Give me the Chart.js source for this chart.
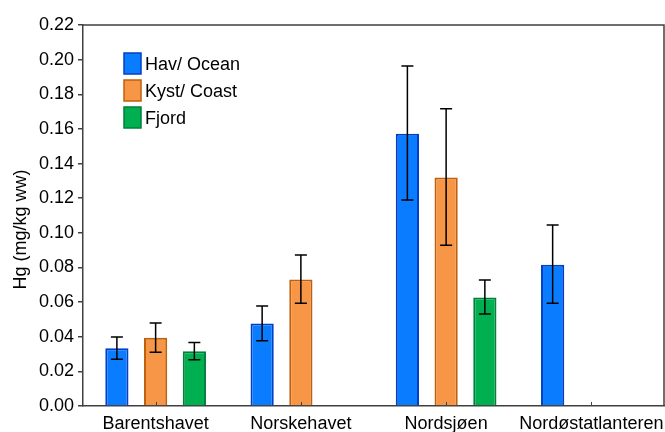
<!DOCTYPE html>
<html>
<head>
<meta charset="utf-8">
<script src="https://cdn.jsdelivr.net/npm/chart.js@4.4.1/dist/chart.umd.min.js"></script>
<style>
  body { margin: 0; background: #fff; }
  #wrap { width: 665px; height: 432px; }
</style>
</head>
<body>
<div id="wrap"><canvas id="myChart" width="665" height="432"></canvas></div>
<script>
const regioner = ["Barentshavet", "Norskehavet", "Nordsjøen", "Nordøstatlanteren"];
const serieNavn = ["Hav/ Ocean", "Kyst/ Coast", "Fjord"];

const hav = [0.0333, 0.0477, 0.1572, 0.0816];
const kyst = [0.0394, 0.0731, 0.132, null];
const fjord = [0.0316, null, 0.0626, null];

// error bars: lower and upper ends
const havLav = [0.027, 0.0377, 0.119, 0.0593];
const havHoy = [0.0398, 0.0577, 0.1963, 0.1045];
const kystLav = [0.031, 0.0593, 0.0928, null];
const kystHoy = [0.0479, 0.0872, 0.1717, null];
const fjordLav = [0.0267, null, 0.0531, null];
const fjordHoy = [0.0366, null, 0.0728, null];

const yTicks = [0, 0.02, 0.04, 0.06, 0.08, 0.10, 0.12, 0.14, 0.16, 0.18, 0.20, 0.22];

const fyll = ["#0a7cff", "#f79646", "#00b050"];
const kant = ["#0040c8", "#c0600c", "#00803a"];
const font = "Liberation Sans, Arial, sans-serif";

const feilLav = [havLav, kystLav, fjordLav];
const feilHoy = [havHoy, kystHoy, fjordHoy];

const ekstra = {
  id: "ekstra",
  afterDatasetsDraw(chart) {
    const ctx = chart.ctx;
    const y = chart.scales.y;
    const x = chart.scales.x;
    const area = chart.chartArea;
    ctx.save();
    ctx.strokeStyle = "#000";
    ctx.lineWidth = 1.5;
    chart.data.datasets.forEach(function (ds, d) {
      const meta = chart.getDatasetMeta(d);
      meta.data.forEach(function (bar, i) {
        if (ds.data[i] == null) return;
        const lo = y.getPixelForValue(feilLav[d][i]);
        const hi = y.getPixelForValue(feilHoy[d][i]);
        ctx.beginPath();
        ctx.moveTo(bar.x, lo);
        ctx.lineTo(bar.x, hi);
        ctx.moveTo(bar.x - 6, lo);
        ctx.lineTo(bar.x + 6, lo);
        ctx.moveTo(bar.x - 6, hi);
        ctx.lineTo(bar.x + 6, hi);
        ctx.stroke();
      });
    });
    // inward ticks on x axis
    ctx.strokeStyle = "#404040";
    ctx.lineWidth = 1;
    regioner.forEach(function (r, i) {
      const px = Math.round(x.getPixelForValue(i)) + 0.5;
      ctx.beginPath();
      ctx.moveTo(px, area.bottom);
      ctx.lineTo(px, area.bottom - 4);
      ctx.stroke();
    });
    // frame top and right
    ctx.strokeStyle = "#404040";
    ctx.lineWidth = 1.5;
    ctx.beginPath();
    ctx.moveTo(area.left, area.top);
    ctx.lineTo(area.right, area.top);
    ctx.lineTo(area.right, area.bottom);
    ctx.stroke();
    ctx.restore();
  },
  afterDraw(chart) {
    const ctx = chart.ctx;
    const area = chart.chartArea;
    ctx.save();
    // legend
    ctx.font = "18px " + font;
    ctx.textBaseline = "middle";
    ctx.textAlign = "left";
    serieNavn.forEach(function (navn, i) {
      const bx = area.left + 41;
      const by = area.top + 28 + i * 27;
      ctx.fillStyle = fyll[i];
      ctx.fillRect(bx, by, 17, 21);
      ctx.strokeStyle = kant[i];
      ctx.lineWidth = 1.5;
      ctx.strokeRect(bx, by, 17, 21);
      ctx.fillStyle = "#000";
      ctx.fillText(navn, bx + 21, by + 12);
    });
    // y title
    ctx.translate(21, (area.top + area.bottom) / 2 + 14);
    ctx.rotate(-Math.PI / 2);
    ctx.textAlign = "center";
    ctx.fillText("Hg (mg/kg ww)", 0, 0);
    ctx.restore();
  }
};

const data = {
  labels: regioner,
  datasets: [hav, kyst, fjord].map(function (verdier, i) {
    return {
      label: serieNavn[i],
      data: verdier,
      backgroundColor: fyll[i],
      borderColor: kant[i],
      borderWidth: 2,
      categoryPercentage: 0.8,
      barPercentage: 0.6
    };
  })
};

const config = {
  type: "bar",
  data: data,
  options: {
    responsive: false,
    animation: false,
    layout: { padding: { top: 25, right: 1, left: 0, bottom: 0 } },
    plugins: {
      legend: { display: false },
      tooltip: { enabled: false }
    },
    scales: {
      x: {
        grid: { display: true, drawOnChartArea: false, drawTicks: false, offset: false },
        border: { display: true, color: "#404040", width: 1.5 },
        ticks: {
          autoSkip: false,
          maxRotation: 0,
          padding: 7,
          color: "#000",
          font: { family: font, size: 18 }
        },
        afterFit: function (scale) {
          scale.height = 26;
          scale.paddingLeft = 0;
          scale.paddingRight = 0;
        }
      },
      y: {
        min: 0,
        max: 0.22,
        afterBuildTicks: function (scale) {
          scale.ticks = yTicks.map(function (v) { return { value: v }; });
        },
        grid: { drawOnChartArea: false, tickLength: 5, color: "#404040", lineWidth: 1.5 },
        border: { display: true, color: "#404040", width: 1.5 },
        ticks: {
          padding: 4,
          color: "#000",
          font: { family: font, size: 18 },
          callback: function (v) { return Number(v).toFixed(2); }
        },
        afterFit: function (scale) {
          scale.width = 83;
          scale.paddingTop = 0;
          scale.paddingBottom = 0;
        }
      }
    }
  },
  plugins: [ekstra]
};

new Chart(document.getElementById("myChart"), config);
</script>
</body>
</html>
